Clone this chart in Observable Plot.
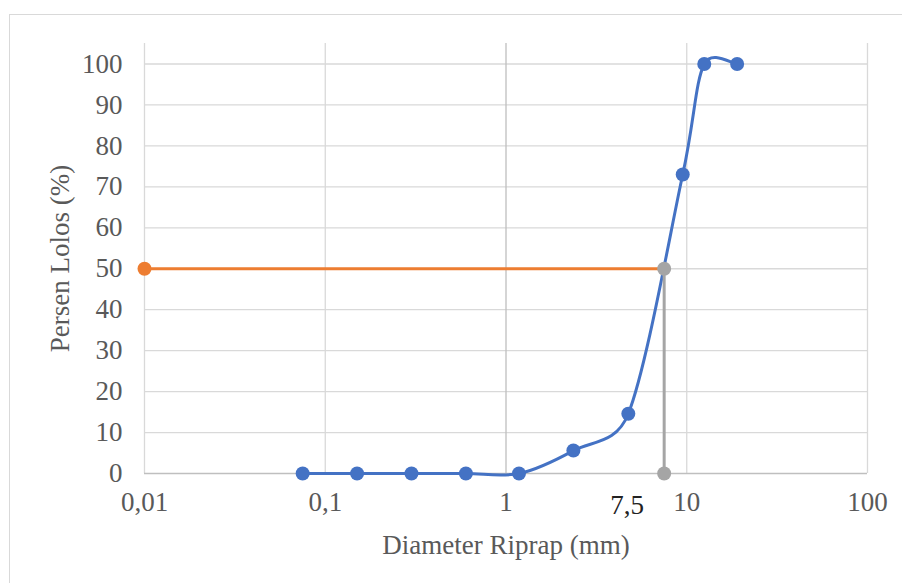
<!DOCTYPE html>
<html>
<head>
<meta charset="utf-8">
<script src="https://cdn.jsdelivr.net/npm/d3@7"></script>
<script src="https://cdn.jsdelivr.net/npm/@observablehq/plot@0.6"></script>
<style>
  html, body { margin: 0; padding: 0; background: white; overflow: hidden; }
  #wrap { position: relative; width: 902px; height: 583px; }
  #frame { position: absolute; left: 9px; top: 14px; width: 1000px; height: 1000px;
           border: 1px solid #d9d9d9; pointer-events: none; }
</style>
</head>
<body>
<div id="wrap"><div id="chart"></div><div id="frame"></div></div>
<script>
// Data
const sieveSize = [0.075, 0.15, 0.3, 0.6, 1.18, 2.36, 4.75, 9.5, 12.5, 19];
const percentPassing = [0, 0, 0, 0, 0, 5.6, 14.6, 73, 100, 100];
const d50Value = 7.5;
const orangeX = [0.01, 7.5];
const orangeY = [50, 50];
const greyX = [7.5, 7.5];
const greyY = [0, 50];
const xTicks = [0.01, 0.1, 1, 10, 100];
const yTicks = [0, 10, 20, 30, 40, 50, 60, 70, 80, 90, 100];
const d50Label = "7,5";
const xTitle = "Diameter Riprap (mm)";
const yTitle = "Persen Lolos (%)";

const blue = sieveSize.map((x, i) => ({x, y: percentPassing[i]}));
const orange = orangeX.map((x, i) => ({x, y: orangeY[i]}));
const grey = greyX.map((x, i) => ({x, y: greyY[i]}));

// Spreadsheet-style smoothed line (Bezier segments, tension 1/6, arms limited to half segment length)
function excelSmooth(context) {
  return {
    areaStart() {}, areaEnd() {},
    lineStart() { this._p = []; },
    point(x, y) { this._p.push([+x, +y]); },
    lineEnd() {
      const p = this._p;
      if (!p.length) return;
      context.moveTo(p[0][0], p[0][1]);
      const dist = (a, b) => Math.hypot(a[0] - b[0], a[1] - b[1]);
      for (let i = 0; i < p.length - 1; i++) {
        const p1 = p[i], p2 = p[i + 1];
        const p0 = i > 0 ? p[i - 1] : p1;
        const p3 = i + 2 < p.length ? p[i + 2] : p2;
        const d12 = dist(p1, p2), d02 = dist(p0, p2), d13 = dist(p1, p3);
        let f0 = 1 / 6, f1 = 1 / 6;
        if (d02 / 6 >= d12 / 2 && d02 > 0) f0 = d12 / 2 / d02;
        if (d13 / 6 >= d12 / 2 && d13 > 0) f1 = d12 / 2 / d13;
        const b1 = [p1[0] + f0 * (p2[0] - p0[0]), p1[1] + f0 * (p2[1] - p0[1])];
        const b2 = [p2[0] - f1 * (p3[0] - p1[0]), p2[1] - f1 * (p3[1] - p1[1])];
        context.bezierCurveTo(b1[0], b1[1], b2[0], b2[1], p2[0], p2[1]);
      }
    }
  };
}

const FS = 27;
const chart = Plot.plot({
  width: 902,
  height: 583,
  marginLeft: 144,
  marginRight: 35,
  marginTop: 43,
  marginBottom: 110,
  style: {fontFamily: "'Liberation Serif', 'Times New Roman', serif", fontSize: FS + "px", color: "#595959", background: "white", overflow: "visible"},
  x: {type: "log", domain: [0.01, 100]},
  y: {domain: [0, 105]},
  marks: [
    Plot.ruleY(yTicks.filter(v => v > 0), {stroke: "#d9d9d9", strokeWidth: 1.3}),
    Plot.ruleX(xTicks.filter(v => v !== 1), {stroke: "#d9d9d9", strokeWidth: 1.3}),
    Plot.ruleX([1], {stroke: "#bfbfbf", strokeWidth: 1.3}),
    Plot.ruleY([0], {stroke: "#bfbfbf", strokeWidth: 1.3}),
    Plot.axisX(xTicks, {tickSize: 0, tickPadding: 18, fontSize: FS, tickFormat: d => String(d).replace(".", ","), label: null, fill: "#595959"}),
    Plot.axisY(yTicks, {tickSize: 0, tickPadding: 22, fontSize: FS, label: null, fill: "#595959"}),
    Plot.text([xTitle], {text: d => d, frameAnchor: "bottom", dy: 72, fontSize: FS, lineAnchor: "middle", textAnchor: "middle", fill: "#595959"}),
    Plot.text([yTitle], {text: d => d, frameAnchor: "left", dx: -84, fontSize: FS, rotate: -90, textAnchor: "middle", lineAnchor: "middle", fill: "#595959"}),
    Plot.text([d50Value], {x: d => d, text: () => d50Label, frameAnchor: "bottom", dy: 32, dx: -37, fontSize: FS, lineAnchor: "middle", fill: "#222"}),
    Plot.line(blue, {x: "x", y: "y", stroke: "#4472C4", strokeWidth: 3, curve: excelSmooth}),
    Plot.dot(blue, {x: "x", y: "y", r: 7, fill: "#4472C4"}),
    Plot.line(orange, {x: "x", y: "y", stroke: "#ED7D31", strokeWidth: 3}),
    Plot.dot(orange.slice(0, 1), {x: "x", y: "y", r: 7, fill: "#ED7D31"}),
    Plot.line(grey, {x: "x", y: "y", stroke: "#A5A5A5", strokeWidth: 3}),
    Plot.dot(grey, {x: "x", y: "y", r: 7, fill: "#A5A5A5"})
  ]
});
document.getElementById("chart").appendChild(chart);
</script>
</body>
</html>
